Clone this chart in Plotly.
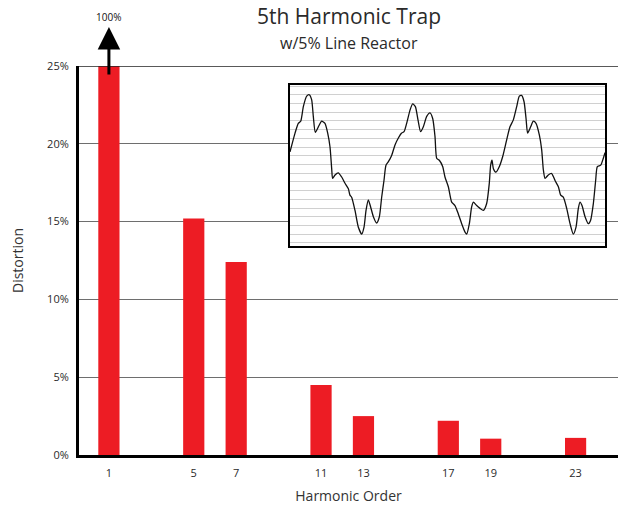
import plotly.graph_objects as go

# ---- data ----
harmonics = [1, 5, 7, 11, 13, 17, 19, 23]
tick_labels = ["1", "5", "7", "11", "13", "17", "19", "23"]
distortion = [100, 15.2, 12.4, 4.5, 2.5, 2.2, 1.05, 1.1]  # percent

# inset waveform (time in cycles, per-unit amplitude)
wave_t = [0.000, 0.048, 0.079, 0.102, 0.127, 0.159, 0.184, 0.206, 0.222, 0.241,
          0.270, 0.302, 0.333, 0.359, 0.381, 0.397, 0.406, 0.429, 0.460, 0.492,
          0.524, 0.556, 0.571, 0.587, 0.619, 0.651, 0.683, 0.705, 0.724, 0.746,
          0.768, 0.794, 0.825, 0.851, 0.873, 0.895, 0.914, 0.937, 0.968, 1.000,
          1.032, 1.063, 1.086, 1.111, 1.143, 1.168, 1.194, 1.219, 1.244, 1.270,
          1.302, 1.333, 1.359, 1.381, 1.397, 1.422, 1.454, 1.476, 1.508, 1.540,
          1.571, 1.603, 1.635, 1.667, 1.683, 1.708, 1.730, 1.746, 1.778, 1.810,
          1.841, 1.873, 1.898, 1.911, 1.924, 1.937, 1.962, 1.994, 2.025, 2.063,
          2.095, 2.127, 2.159, 2.184, 2.206, 2.229, 2.248, 2.263, 2.292, 2.317,
          2.343, 2.375, 2.397, 2.413, 2.429, 2.460, 2.492, 2.524, 2.556, 2.578,
          2.603, 2.635, 2.667, 2.698, 2.724, 2.746, 2.762, 2.781, 2.810, 2.841,
          2.863, 2.889, 2.911, 2.927, 2.959, 2.984, 3.000]
wave_v = [0.18, 0.45, 0.59, 0.62, 0.83, 0.98, 1.00, 0.93, 0.69, 0.46,
          0.54, 0.62, 0.59, 0.45, 0.25, -0.06, -0.20, -0.15, -0.12, -0.18,
          -0.27, -0.35, -0.44, -0.47, -0.66, -0.90, -1.00, -0.90, -0.66, -0.51,
          -0.61, -0.75, -0.84, -0.75, -0.47, -0.23, -0.01, 0.04, 0.13, 0.28,
          0.38, 0.45, 0.47, 0.59, 0.78, 0.87, 0.83, 0.64, 0.47, 0.54,
          0.69, 0.74, 0.66, 0.40, 0.09, 0.06, -0.03, -0.18, -0.32, -0.54,
          -0.59, -0.71, -0.85, -0.97, -1.00, -0.85, -0.61, -0.54, -0.59, -0.63,
          -0.66, -0.56, -0.27, -0.01, 0.06, -0.06, -0.11, -0.03, 0.11, 0.35,
          0.54, 0.64, 0.83, 0.98, 0.99, 0.90, 0.66, 0.45, 0.54, 0.62,
          0.59, 0.42, 0.21, -0.08, -0.20, -0.15, -0.13, -0.23, -0.32, -0.44,
          -0.47, -0.63, -0.85, -1.00, -0.90, -0.63, -0.54, -0.59, -0.75, -0.85,
          -0.80, -0.56, -0.23, -0.03, -0.01, 0.09, 0.17]

FONT = "Open Sans"
TXT = "#2a2a2a"

fig = go.Figure()
fig.add_trace(go.Bar(x=harmonics, y=distortion, width=1.0,
                     marker=dict(color="#ED1C24", line=dict(width=0)),
                     xaxis="x", yaxis="y", showlegend=False))
fig.add_trace(go.Scatter(x=wave_t, y=wave_v, mode="lines",
                         line=dict(color="#111111", width=1.3, shape="spline", smoothing=0.6),
                         xaxis="x2", yaxis="y2", showlegend=False))

fig.update_layout(
    width=618, height=506,
    margin=dict(l=79, r=0, t=66, b=51),
    paper_bgcolor="white", plot_bgcolor="white",
    font=dict(family=FONT, color=TXT),
    xaxis=dict(range=[-0.41, 25.0], tickvals=harmonics, ticktext=tick_labels,
               showgrid=False, zeroline=False, showline=True, linecolor="black",
               linewidth=3, ticks="", ticklabelstandoff=6,
               tickfont=dict(size=11, family=FONT, color=TXT),
               title=dict(text="Harmonic Order", font=dict(size=14, family=FONT, color="#333"),
                          standoff=12)),
    yaxis=dict(range=[0, 25], dtick=5, ticksuffix="%", showgrid=True,
               gridcolor="#6e6e6e", gridwidth=1.2, zeroline=False, showline=True,
               linecolor="black", linewidth=3, ticks="", ticklabelstandoff=5,
               tickfont=dict(size=11, family=FONT, color=TXT),
               title=dict(text="Distortion", font=dict(size=14, family=FONT, color="#333"),
                          standoff=21)),
    xaxis2=dict(domain=[(290 - 79) / 539, (605 - 79) / 539], anchor="y2",
                range=[0, 3], showgrid=False, zeroline=False, showticklabels=False,
                ticks="", showline=True, mirror=True, linecolor="black", linewidth=2),
    yaxis2=dict(domain=[(455 - 246) / 389, (455 - 85) / 389], anchor="x2",
                range=[-1.17, 1.14], dtick=0.125, showgrid=True, gridcolor="#d0d0d0",
                gridwidth=1, zeroline=False, showticklabels=False, ticks="",
                showline=True, mirror=True, linecolor="black", linewidth=2),
)

# title and subtitle (stacked on a shared boundary so they do not overlap)
fig.add_annotation(x=0.5, y=(455 - 31) / 389, xref="paper", yref="paper",
                   text="5th Harmonic Trap", showarrow=False, yanchor="bottom",
                   borderpad=0, font=dict(size=21, family=FONT, color=TXT))
fig.add_annotation(x=0.5, y=(455 - 31) / 389, xref="paper", yref="paper",
                   text="w/5% Line Reactor", showarrow=False, yanchor="top",
                   borderpad=0, font=dict(size=16, family=FONT, color=TXT))

# dark line at the 25% level
fig.add_shape(type="line", xref="paper", yref="y", x0=0, x1=1, y0=25, y1=25,
              line=dict(color="#222", width=1.5))

# arrow indicating the fundamental goes off-scale to 100%
fig.add_annotation(x=harmonics[0], y=(455 - 27) / 389, xref="x", yref="y domain",
                   ax=harmonics[0], ay=(455 - 76) / 389, axref="x", ayref="y domain",
                   showarrow=True, arrowhead=2, arrowsize=1.5, arrowwidth=3,
                   arrowcolor="black", text="")
fig.add_annotation(x=harmonics[0], y=(455 - 17.5) / 389, xref="x", yref="y domain",
                   text="100%", showarrow=False, yanchor="middle",
                   font=dict(size=10, family=FONT, color="#111"))

fig.write_html("out.html", config={"displayModeBar": False},
               post_script="document.body.style.margin='0';")
